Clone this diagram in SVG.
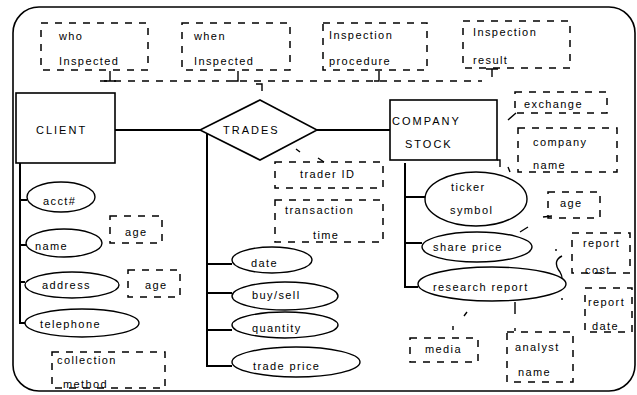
<svg xmlns="http://www.w3.org/2000/svg" width="637" height="395" viewBox="0 0 637 395">
<style>
text{font-family:"Liberation Sans",Arial,sans-serif;font-size:11px;fill:#000;letter-spacing:1.4px}
.cap{letter-spacing:2px}
.box{fill:#fff;stroke:#000;stroke-width:1.6}
.ell{fill:#fff;stroke:#000;stroke-width:1.4}
.dbox{fill:none;stroke:#000;stroke-width:1.5;stroke-dasharray:7 7}
.ln{fill:none;stroke:#000;stroke-width:2}
.tk{fill:none;stroke:#000;stroke-width:1.4}
.dl{fill:none;stroke:#000;stroke-width:1.5;stroke-dasharray:7 7}
</style>
<rect width="637" height="395" fill="#fff"/>
<rect x="13" y="7" width="622" height="384" rx="26" fill="none" stroke="#000" stroke-width="1.6"/>

<g id="connectors">
  <path class="ln" d="M115,130 H200 M317,130 H390"/>
  <path class="ln" d="M20,163 V323 H26 M20,200 H27 M20,245 H26 M20,282 H25"/>
  <path class="ln" d="M207,134 V366 H232 M207,264 H232 M207,293 H232 M207,330 H232"/>
  <path class="ln" d="M405,163 V287 H418 M405,197 H425 M405,243 H422"/>
  <path class="dl" d="M100,81 H482"/>
  <path class="tk" d="M110,71 V81 M104,81 H116 M238,71 V81 H233 M379,71 V81 H374 M486,69 H498 M492,69 V77 M256,84 H262 V91"/>
  <path class="tk" d="M296,149 L300,152 M318,158 L324,162"/>
  <path class="tk" d="M508,120 L516,113 M497,160 L500,160 L500,167 M508,167 L510,172"/>
  <path class="tk" d="M543,217 L552,216 M520,232 L528,227 M556,249 V251"/>
  <path class="tk" d="M548,292 C558,291 566,282 560,272 C554,264 556,259 562,256 M562,298 V300"/>
  <path class="tk" d="M467,312 L464,316 M453,326 V330 M515,302 V314 M515,328 V331"/>
</g>

<g id="who-inspected"><rect class="dbox" x="41" y="23" width="107" height="47"/><text x="59" y="40">who</text><text x="59" y="65">Inspected</text></g>
<g id="when-inspected"><rect class="dbox" x="182" y="23" width="108" height="47"/><text x="194" y="40">when</text><text x="194" y="65">Inspected</text></g>
<g id="inspection-procedure"><rect class="dbox" x="323" y="23" width="104" height="47"/><text x="329" y="39">Inspection</text><text x="329" y="65">procedure</text></g>
<g id="inspection-result"><rect class="dbox" x="463" y="21" width="107" height="47"/><text x="473" y="36">Inspection</text><text x="473" y="64">result</text></g>

<g id="client"><rect class="box" x="16" y="93" width="99" height="70"/><text class="cap" x="36" y="134">CLIENT</text></g>
<g id="trades"><polygon class="box" points="260,100 317,130 260,160 200,130" stroke-width="1.4"/><text class="cap" x="223" y="134">TRADES</text></g>
<g id="company-stock"><rect class="box" x="390" y="100" width="107" height="60"/><text class="cap" x="392" y="125">COMPANY</text><text class="cap" x="405" y="148">STOCK</text></g>

<g id="acct"><ellipse class="ell" cx="61" cy="197" rx="34" ry="15"/><text x="43" y="205">acct#</text></g>
<g id="name"><ellipse class="ell" cx="64" cy="243" rx="38" ry="14"/><text x="35" y="250">name</text></g>
<g id="name-age"><rect class="dbox" x="110" y="216" width="52" height="27"/><text x="125" y="236">age</text></g>
<g id="address"><ellipse class="ell" cx="72" cy="285" rx="47" ry="13"/><text x="42" y="289">address</text></g>
<g id="address-age"><rect class="dbox" x="128" y="270" width="52" height="27"/><text x="145" y="289">age</text></g>
<g id="telephone"><ellipse class="ell" cx="82" cy="323" rx="57" ry="14"/><text x="40" y="328">telephone</text></g>
<g id="collection-method"><rect class="dbox" x="52" y="352" width="113" height="36"/><text x="57" y="364">collection</text><text x="63" y="388">method</text></g>

<g id="trader-id"><rect class="dbox" x="275" y="162" width="108" height="26"/><text x="300" y="178">trader ID</text></g>
<g id="transaction-time"><rect class="dbox" x="275" y="200" width="108" height="42"/><text x="285" y="214">transaction</text><text x="313" y="239">time</text></g>
<g id="date"><ellipse class="ell" cx="272" cy="260" rx="40" ry="13"/><text x="251" y="267">date</text></g>
<g id="buy-sell"><ellipse class="ell" cx="285" cy="296" rx="53" ry="14"/><text x="252" y="299">buy/sell</text></g>
<g id="quantity"><ellipse class="ell" cx="285" cy="325" rx="53" ry="13"/><text x="252" y="332">quantity</text></g>
<g id="trade-price"><ellipse class="ell" cx="296" cy="362" rx="64" ry="15"/><text x="253" y="370">trade price</text></g>

<g id="exchange"><rect class="dbox" x="515" y="92" width="92" height="21"/><text x="524" y="108">exchange</text></g>
<g id="company-name"><rect class="dbox" x="518" y="128" width="99" height="44"/><text x="533" y="146">company</text><text x="533" y="169">name</text></g>
<g id="ticker-symbol"><ellipse class="ell" cx="476" cy="199" rx="51" ry="27"/><text x="451" y="191">ticker</text><text x="450" y="214">symbol</text></g>
<g id="ticker-age"><rect class="dbox" x="548" y="192" width="52" height="26"/><text x="560" y="207">age</text></g>
<g id="share-price"><ellipse class="ell" cx="477" cy="247" rx="55" ry="15"/><text x="433" y="251">share price</text></g>
<g id="research-report"><ellipse class="ell" cx="492" cy="284" rx="74" ry="17"/><text x="433" y="291">research report</text></g>
<g id="report-cost"><rect class="dbox" x="572" y="233" width="58" height="40"/><text x="583" y="247">report</text><text x="585" y="274">cost</text></g>
<g id="report-date"><rect class="dbox" x="585" y="288" width="47" height="44"/><text x="588" y="306">report</text><text x="592" y="330">date</text></g>
<g id="media"><rect class="dbox" x="410" y="338" width="68" height="24"/><text x="425" y="353">media</text></g>
<g id="analyst-name"><rect class="dbox" x="507" y="332" width="66" height="50"/><text x="515" y="351">analyst</text><text x="518" y="376">name</text></g>
</svg>
